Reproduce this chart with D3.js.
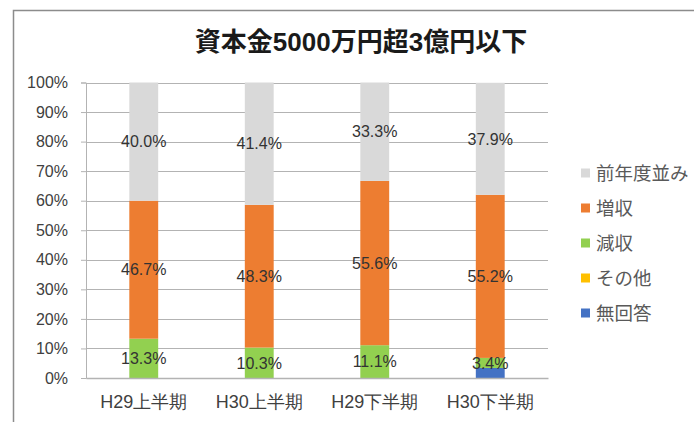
<!DOCTYPE html>
<html>
<head>
<meta charset="utf-8">
<script src="https://cdn.jsdelivr.net/npm/d3@7"></script>
<style>
  body { margin: 0; background: #fff; }
  svg { display: block; font-family: "Liberation Sans", "Noto Sans CJK JP", sans-serif; }
</style>
</head>
<body>
<div id="chart"></div>
<script>
// data (percent)
const categories = ['H29上半期', 'H30上半期', 'H29下半期', 'H30下半期'];
const seriesNames = ['無回答', 'その他', '減収', '増収', '前年度並み'];
const noAnswer = [0, 0, 0, 3.4];
const other = [0, 0, 0, 0];
const decrease = [13.3, 10.3, 11.1, 3.4];
const increase = [46.7, 48.3, 55.6, 55.2];
const same = [40.0, 41.4, 33.3, 37.9];
const yTicks = [0, 10, 20, 30, 40, 50, 60, 70, 80, 90, 100];

const colors = ['#4472C4', '#FFC000', '#92D050', '#ED7D31', '#D9D9D9'];
const seriesValues = [noAnswer, other, decrease, increase, same];

const width = 694, height = 422;
const plot = { left: 86, right: 548, top: 82.5, bottom: 378 };

const rows = categories.map((c, i) => {
  const r = { cat: c };
  seriesNames.forEach((s, j) => r[s] = seriesValues[j][i]);
  return r;
});

const stack = d3.stack().keys(seriesNames)(rows);

const x = d3.scaleBand()
  .domain(categories)
  .range([plot.left, plot.right])
  .paddingInner(0.75)
  .paddingOuter(0.375);

const y = d3.scaleLinear()
  .domain([0, 100])
  .range([plot.bottom, plot.top]);

const svg = d3.select('#chart').append('svg')
  .attr('width', width)
  .attr('height', height);

// outer frame (only top and left edges visible)
svg.append('path')
  .attr('d', `M13.5,${height + 5}V10.5H${width + 5}`)
  .attr('fill', 'none')
  .attr('stroke', '#8c8c8c')
  .attr('stroke-width', 1.5);

svg.append('text')
  .attr('x', 361)
  .attr('y', 51)
  .attr('text-anchor', 'middle')
  .attr('font-size', 26)
  .attr('font-weight', 'bold')
  .attr('fill', '#1a1a1a')
  .text('資本金5000万円超3億円以下');

// gridlines
svg.append('g')
  .selectAll('line')
  .data(yTicks.slice(1))
  .enter()
  .append('line')
  .attr('x1', plot.left)
  .attr('x2', plot.right)
  .attr('y1', d => Math.round(y(d)) + 0.5)
  .attr('y2', d => Math.round(y(d)) + 0.5)
  .attr('stroke', '#b3b3b3');

// y axis
const yAxis = svg.append('g')
  .attr('transform', `translate(${plot.left},0)`)
  .call(d3.axisLeft(y).tickValues(yTicks).tickFormat(d => d + '%').tickSize(5).tickPadding(13));
yAxis.select('.domain').attr('stroke', '#b3b3b3');
yAxis.selectAll('.tick line').attr('stroke', '#b3b3b3');
yAxis.selectAll('.tick text')
  .attr('font-size', 16)
  .attr('font-family', null)
  .attr('fill', '#404040');

// bars
const layers = svg.append('g')
  .selectAll('g')
  .data(stack)
  .enter()
  .append('g')
  .attr('fill', (d, i) => colors[i]);

layers.selectAll('rect')
  .data(d => d)
  .enter()
  .append('rect')
  .attr('x', d => x(d.data.cat))
  .attr('width', x.bandwidth())
  .attr('y', d => y(d[1]))
  .attr('height', d => y(d[0]) - y(d[1]));

// x axis
const xAxis = svg.append('g')
  .attr('transform', `translate(0,${plot.bottom})`)
  .call(d3.axisBottom(x).tickSize(0).tickPadding(17));
xAxis.select('.domain').attr('stroke', '#b3b3b3').attr('stroke-width', 1.5);
xAxis.selectAll('.tick text')
  .attr('font-size', 18)
  .attr('font-family', null)
  .attr('fill', '#404040');

// data labels (the 無回答 segment carries none)
stack.forEach((layer, i) => {
  if (seriesNames[i] === '無回答') return;
  svg.append('g')
    .selectAll('text')
    .data(layer.filter(d => d[1] - d[0] > 0))
    .enter()
    .append('text')
    .attr('x', d => x(d.data.cat) + x.bandwidth() / 2)
    .attr('y', d => y((d[0] + d[1]) / 2))
    .attr('dy', '0.36em')
    .attr('text-anchor', 'middle')
    .attr('font-size', 16)
    .attr('fill', '#333')
    .text(d => (d[1] - d[0]).toFixed(1) + '%');
});

// legend
const legend = svg.append('g')
  .selectAll('g')
  .data(seriesNames.slice().reverse())
  .enter()
  .append('g')
  .attr('transform', (d, i) => `translate(581,${173 + i * 35})`);

legend.append('rect')
  .attr('y', -4.5)
  .attr('width', 9)
  .attr('height', 9)
  .attr('fill', d => colors[seriesNames.indexOf(d)]);

legend.append('text')
  .attr('x', 15)
  .attr('dy', '0.36em')
  .attr('font-size', 18.5)
  .attr('fill', '#595959')
  .text(d => d);
</script>
</body>
</html>
